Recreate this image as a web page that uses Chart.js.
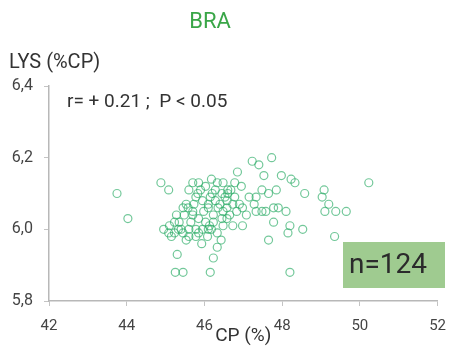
<!DOCTYPE html>
<html>
<head>
<meta charset="utf-8">
<script src="https://cdn.jsdelivr.net/npm/chart.js@4.4.1/dist/chart.umd.min.js"></script>
<style>
    html, body { margin: 0; padding: 0; background: #fff; }
    #wrap { width: 457px; height: 349px; position: relative; }
</style>
</head>
<body>
<div id="wrap"><canvas id="scatterChart"></canvas></div>
<script>
// BRA - lysine (%CP) vs crude protein (%)
const cpValues = [
    43.75, 44.03, 44.88, 45.08, 45.30, 45.25, 45.45, 46.15, 46.23, 46.33,
    48.20, 50.23, 49.35, 49.65, 49.38, 49.10, 49.20, 49.03, 49.08, 48.58,
    48.33, 48.23, 47.98, 48.10, 48.20, 48.15, 48.53, 47.78, 47.65, 47.90,
    47.78, 47.58, 47.33, 47.48, 47.85, 47.65, 47.33, 47.23, 47.40, 47.73,
    46.85, 46.98, 46.98, 46.73, 46.48, 46.23, 46.45, 46.23, 46.33, 46.83,
    46.58, 46.35, 46.90, 46.73, 46.58, 46.40, 46.78, 46.60, 46.45, 46.28,
    46.48, 46.33, 46.20, 46.03, 45.85, 45.70, 45.60, 45.78, 45.95, 46.10,
    46.10, 45.53, 45.45, 45.58, 45.48, 45.70, 45.85, 46.03, 46.13, 45.35,
    45.23, 45.10, 44.95, 45.08, 45.23, 45.40, 45.60, 45.78, 45.95, 46.10,
    45.45, 45.60, 45.78, 46.08, 45.85, 45.70, 45.28, 45.83, 45.73, 46.60,
    47.28, 47.48, 45.90, 46.15, 46.53, 46.68, 46.28, 45.98, 45.65, 45.33,
    45.15, 45.53, 45.93, 46.48, 46.65, 46.18, 46.43, 47.08, 47.15, 46.95,
    47.53, 46.78, 46.18, 46.58
];
const lysValues = [
    6.10, 6.03, 6.13, 6.11, 5.93, 5.88, 5.88, 5.88, 5.92, 5.95,
    5.88, 6.13, 5.98, 6.05, 6.05, 6.05, 6.07, 6.09, 6.11, 6.10,
    6.13, 6.14, 6.15, 6.05, 6.01, 5.99, 6.00, 6.02, 5.97, 6.06,
    6.06, 6.05, 6.05, 6.11, 6.11, 6.10, 6.09, 6.19, 6.18, 6.20,
    6.16, 6.06, 6.01, 6.01, 6.01, 6.02, 6.03, 6.04, 5.99, 6.05,
    6.06, 6.06, 6.07, 6.07, 6.08, 6.07, 6.09, 6.10, 6.10, 6.11,
    6.13, 6.13, 6.10, 6.12, 6.13, 6.13, 6.11, 6.09, 6.08, 6.07,
    6.06, 6.07, 6.06, 6.06, 6.04, 6.04, 6.03, 6.02, 6.01, 6.02,
    6.02, 6.01, 6.00, 5.99, 5.99, 6.00, 6.00, 6.00, 6.00, 6.00,
    5.99, 5.98, 5.98, 5.98, 5.99, 6.05, 6.04, 6.10, 6.07, 6.11,
    6.07, 6.05, 6.11, 6.09, 6.09, 6.11, 6.08, 6.05, 6.02, 6.00,
    5.98, 5.97, 5.96, 6.05, 6.04, 6.00, 5.97, 6.04, 6.09, 6.12,
    6.15, 6.13, 6.14, 6.03
];
const xTicks = [42, 44, 46, 48, 50, 52];
const yTicks = [5.8, 6.0, 6.2, 6.4];
const chartTitle = 'BRA';
const yLabel = 'LYS (%CP)';
const xLabel = 'CP (%)';
const statsText = 'r= + 0.21 ;  P < 0.05';
const countText = 'n=124';

const points = cpValues.map((cp, i) => ({ x: cp, y: lysValues[i] }));

const FONT = 'Roboto, "Liberation Sans", sans-serif';

// Extra text: title, y axis label, stats and the n box
const annotations = {
    id: 'annotations',
    afterDraw(chart) {
        const ctx = chart.ctx;
        ctx.save();
        ctx.textBaseline = 'middle';

        ctx.fillStyle = '#3aa648';
        ctx.font = '22px ' + FONT;
        ctx.textAlign = 'center';
        ctx.fillText(chartTitle, 210, 22);

        ctx.fillStyle = '#333';
        ctx.font = '20px ' + FONT;
        ctx.textAlign = 'left';
        ctx.fillText(yLabel, 9, 63);

        ctx.font = '19px ' + FONT;
        ctx.fillText(statsText, 67, 102);

        ctx.fillStyle = '#9fcb90';
        ctx.fillRect(343, 242, 102, 46);
        ctx.fillStyle = '#2b2b2b';
        ctx.font = '28px ' + FONT;
        ctx.textAlign = 'center';
        ctx.fillText(countText, 388, 266);
        ctx.restore();
    }
};

new Chart(document.getElementById('scatterChart'), {
    type: 'scatter',
    data: {
        datasets: [{
            data: points,
            backgroundColor: 'rgba(0,0,0,0)',
            borderColor: 'rgba(40, 170, 100, 0.65)',
            borderWidth: 1.2,
            pointRadius: 4,
            pointHoverRadius: 4
        }]
    },
    options: {
        responsive: true,
        maintainAspectRatio: false,
        animation: false,
        layout: {
            padding: { top: 86, right: 9, bottom: 0, left: 0 }
        },
        plugins: {
            legend: { display: false },
            tooltip: { enabled: false }
        },
        scales: {
            x: {
                type: 'linear',
                min: 42,
                max: 52,
                afterBuildTicks: (scale) => {
                    scale.ticks = xTicks.map(v => ({ value: v }));
                },
                afterFit: (scale) => { scale.height = 48; },
                grid: {
                    display: true,
                    drawOnChartArea: false,
                    tickLength: 5,
                    color: '#c4c4c4'
                },
                border: { display: true, color: '#b8b8b8', width: 1.5 },
                ticks: {
                    padding: 11,
                    color: '#444',
                    font: { family: FONT, size: 15 }
                },
                title: {
                    display: true,
                    text: xLabel,
                    color: '#333',
                    font: { family: FONT, size: 19 },
                    padding: { top: 0, bottom: 1 }
                }
            },
            y: {
                type: 'linear',
                min: 5.8,
                max: 6.4,
                afterBuildTicks: (scale) => {
                    scale.ticks = yTicks.map(v => ({ value: v }));
                },
                afterFit: (scale) => { scale.width = 49; },
                grid: {
                    display: true,
                    drawOnChartArea: false,
                    tickLength: 5,
                    color: '#c4c4c4'
                },
                border: { display: true, color: '#b8b8b8', width: 1.5 },
                ticks: {
                    padding: 11,
                    color: '#444',
                    font: { family: FONT, size: 16 },
                    callback: (v) => v.toFixed(1).replace('.', ',')
                }
            }
        }
    },
    plugins: [annotations]
});
</script>
</body>
</html>
